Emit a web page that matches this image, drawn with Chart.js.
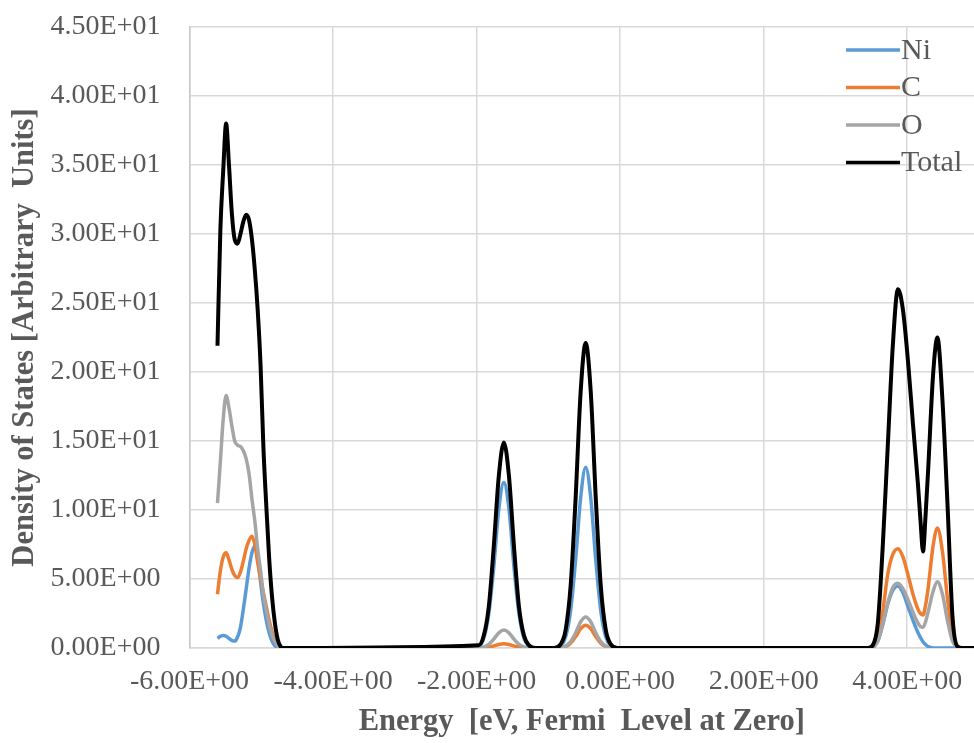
<!DOCTYPE html>
<html>
<head>
<meta charset="utf-8">
<script src="https://cdn.jsdelivr.net/npm/chart.js@4.4.1/dist/chart.umd.min.js"></script>
<style>
  html, body { margin: 0; padding: 0; background: #fff; }
  #wrap { width: 974px; height: 743px; }
</style>
</head>
<body>
<div id="wrap"><canvas id="dos" width="974" height="743"></canvas></div>
<script>
// ── Data ─────────────────────────────────────────────────────────
const energy = [
  -5.61, -5.57, -5.53, -5.49, -5.45, -5.41, -5.37, -5.33, -5.29, -5.25, -5.21, -5.17,
  -5.13, -5.09, -5.05, -5.01, -4.97, -4.93, -4.89, -4.85, -4.81, -4.77, -4.73, -4.69,
  -4.55,
  -1.97, -1.90, -1.83, -1.76, -1.69, -1.62, -1.55, -1.48, -1.41, -1.34, -1.27,
  -1.18, -0.92,
  -0.83, -0.76, -0.69, -0.62, -0.55, -0.48, -0.41, -0.34, -0.27, -0.20, -0.13,
  -0.04, 3.38,
  3.45, 3.52, 3.59, 3.66, 3.73, 3.80, 3.87, 3.94, 4.01, 4.08, 4.15, 4.185, 4.22, 4.255,
  4.29, 4.36, 4.42, 4.49, 4.56, 4.63, 4.70, 4.77, 4.93
];

const ni = [
  0.7, 0.85, 0.9, 0.85, 0.7, 0.55, 0.5, 0.8, 1.5, 2.8, 4.3, 5.8,
  6.9, 7.4, 6.6, 4.8, 3.2, 2.0, 1.1, 0.5, 0.15, 0.03, 0, 0,
  0,
  0.15, 0.7, 2.5, 5.9, 10.1, 12.0, 10.1, 5.9, 2.5, 0.7, 0.15,
  0, 0,
  0.16, 0.8, 2.7, 6.4, 10.9, 13.1, 10.9, 6.4, 2.7, 0.8, 0.16,
  0, 0,
  0, 0.05, 0.5, 1.7, 3.2, 4.2, 4.5, 4.0, 3.0, 2.0, 1.1, 0.75, 0.45, 0.25,
  0.1, 0, 0, 0, 0, 0, 0, 0, 0
];

const carbon = [
  3.9, 5.6, 6.6, 6.9, 6.4, 5.7, 5.25, 5.1, 5.5, 6.3, 7.2, 7.8,
  8.1, 7.5, 6.2, 5.0, 4.0, 3.0, 2.0, 1.2, 0.5, 0.15, 0.03, 0,
  0,
  0, 0.02, 0.06, 0.15, 0.25, 0.3, 0.25, 0.15, 0.06, 0.02, 0,
  0, 0,
  0.02, 0.1, 0.34, 0.82, 1.4, 1.65, 1.4, 0.82, 0.34, 0.1, 0.02,
  0, 0,
  0, 0.05, 0.7, 2.7, 5.4, 6.8, 7.2, 6.6, 5.3, 3.9, 2.8, 2.5, 2.4, 3.1,
  4.3, 7.4, 8.7, 7.0, 3.6, 0.9, 0.1, 0, 0
];

const oxygen = [
  10.5, 13.5, 16.6, 18.3, 17.4, 16.1, 15.0, 14.7, 14.6, 14.3, 13.7, 12.6,
  10.8, 9.2, 7.2, 5.6, 3.9, 2.7, 1.7, 0.95, 0.45, 0.15, 0.03, 0,
  0,
  0.02, 0.08, 0.27, 0.65, 1.1, 1.3, 1.1, 0.65, 0.27, 0.08, 0.02,
  0, 0,
  0.03, 0.14, 0.46, 1.1, 1.9, 2.25, 1.9, 1.1, 0.46, 0.14, 0.03,
  0, 0,
  0, 0.05, 0.5, 1.8, 3.3, 4.4, 4.7, 4.3, 3.5, 2.6, 1.8, 1.55, 1.5, 1.9,
  2.6, 4.1, 4.8, 3.9, 2.0, 0.5, 0.05, 0, 0
];

const total = [
  21.9, 30.3, 34.6, 38.0, 35.0, 31.5, 29.6, 29.3, 30.0, 30.9, 31.4, 31.0,
  29.6, 27.4, 24.5, 20.5, 14.5, 10.3, 6.5, 3.7, 1.8, 0.6, 0.1, 0,
  0,
  0.2, 0.9, 3.0, 7.4, 12.5, 14.9, 12.5, 7.4, 3.0, 0.9, 0.2,
  0, 0,
  0.27, 1.3, 4.5, 10.9, 18.6, 22.1, 18.6, 10.9, 4.5, 1.3, 0.27,
  0, 0,
  0, 0.2, 1.8, 7.5, 14.8, 22.0, 26.0, 24.5, 20.8, 16.2, 11.8, 9.2, 7.0, 9.6,
  12.8, 19.8, 22.5, 18.0, 10.5, 2.3, 0.1, 0, 0
];

const seriesNames = ['Ni', 'C', 'O', 'Total'];
const xTicks = [-6, -4, -2, 0, 2, 4];
const xTickLabels = ['-6.00E+00', '-4.00E+00', '-2.00E+00', '0.00E+00', '2.00E+00', '4.00E+00'];
const yTicks = [0, 5, 10, 15, 20, 25, 30, 35, 40, 45];
const yTickLabels = ['0.00E+00', '5.00E+00', '1.00E+01', '1.50E+01', '2.00E+01',
                     '2.50E+01', '3.00E+01', '3.50E+01', '4.00E+01', '4.50E+01'];

// ── Chart ────────────────────────────────────────────────────────
const FONT = "'Liberation Serif', 'Times New Roman', serif";
const TEXT = '#595959';
Chart.defaults.font.family = FONT;
Chart.defaults.color = TEXT;

const pts = vals => energy.map((e, i) => ({ x: e, y: vals[i] }));
const line = (label, vals, color, width, order) => ({
  label, data: pts(vals), borderColor: color, backgroundColor: color,
  borderWidth: width, pointRadius: 0, cubicInterpolationMode: 'monotone',
  fill: false, order
});

// legend drawn inside the plot, top right, like the original
const insideLegend = {
  id: 'insideLegend',
  afterDraw(chart) {
    const { ctx, chartArea } = chart;
    const x0 = chartArea.right - 128, y0 = chartArea.top + 23, step = 37.5;
    ctx.save();
    ctx.font = '30px ' + FONT;
    ctx.textBaseline = 'middle';
    chart.data.datasets.forEach((ds, i) => {
      const y = y0 + i * step;
      ctx.strokeStyle = ds.borderColor;
      ctx.lineWidth = 3.5;
      ctx.beginPath(); ctx.moveTo(x0, y); ctx.lineTo(x0 + 54, y); ctx.stroke();
      ctx.fillStyle = TEXT;
      ctx.fillText(ds.label, x0 + 55, y + 1);
    });
    ctx.restore();
  }
};

new Chart(document.getElementById('dos'), {
  type: 'line',
  data: {
    datasets: [
      line(seriesNames[0], ni, '#5B9BD5', 3.5, 3),
      line(seriesNames[1], carbon, '#ED7D31', 3.5, 2),
      line(seriesNames[2], oxygen, '#A5A5A5', 3.5, 1),
      line(seriesNames[3], total, '#000000', 4, 0)
    ]
  },
  options: {
    responsive: false,
    animation: false,
    layout: { padding: { top: 27, right: 0, bottom: 0, left: 0 } },
    plugins: { legend: { display: false }, tooltip: { enabled: false } },
    scales: {
      x: {
        type: 'linear', min: -6, max: 4.93,
        afterBuildTicks: s => { s.ticks = xTicks.map(v => ({ value: v })); },
        afterFit: s => { s.height = 95; s.paddingLeft = 0; s.paddingRight = 0; },
        ticks: {
          padding: 17, maxRotation: 0, autoSkip: false,
          font: { size: 28 }, color: TEXT,
          callback: v => xTickLabels[xTicks.indexOf(v)]
        },
        grid: { color: '#d9d9d9', lineWidth: 1.5, drawTicks: false },
        border: { color: '#d9d9d9', width: 1.5 },
        title: {
          display: true, text: 'Energy  [eV, Fermi  Level at Zero]',
          font: { size: 30.5, weight: 'bold' }, color: TEXT,
          padding: { top: 0, bottom: 3 }
        }
      },
      y: {
        min: 0, max: 45,
        afterBuildTicks: s => { s.ticks = yTicks.map(v => ({ value: v })); },
        afterFit: s => { s.width = 189.5; s.paddingTop = 0; s.paddingBottom = 0; },
        ticks: {
          padding: 29, font: { size: 28 }, color: TEXT,
          callback: v => yTickLabels[yTicks.indexOf(v)]
        },
        grid: { color: '#d9d9d9', lineWidth: 1.5, drawTicks: false },
        border: { color: '#c8c8c8', width: 1.5 },
        title: {
          display: true, text: 'Density of States [Arbitrary  Units]',
          font: { size: 30.5, weight: 'bold' }, color: TEXT,
          padding: { top: 7, bottom: 0 }
        }
      }
    }
  },
  plugins: [insideLegend]
});
</script>
</body>
</html>
